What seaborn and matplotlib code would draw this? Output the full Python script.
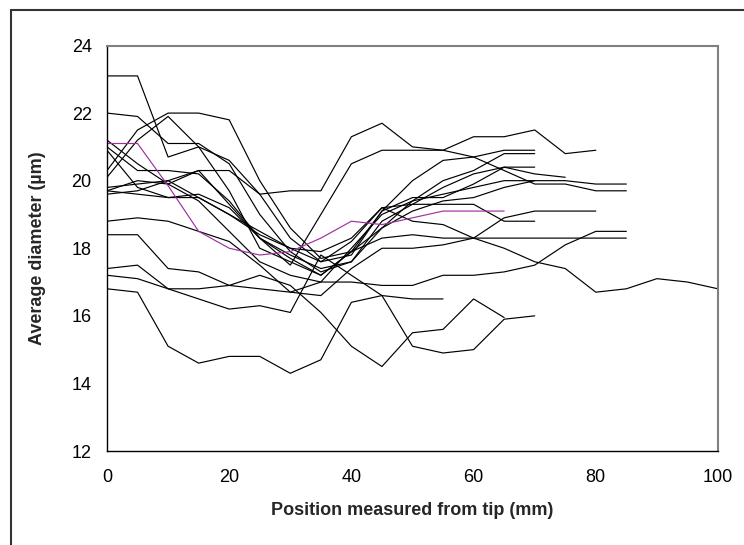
import matplotlib
matplotlib.use('Agg')
import matplotlib.pyplot as plt
import seaborn as sns
import pandas as pd
from matplotlib.patches import Rectangle

# sampling positions along the fibre (mm from tip)
positions = [0, 5, 10, 15, 20, 25, 30, 35, 40, 45, 50,
             55, 60, 65, 70, 75, 80, 85, 90, 95, 100]

# average diameter (um) per fibre
fibre_01 = [23.1, 23.1, 20.7, 21.0, 19.7, 18.0, 17.6, 17.2, 17.9, 19.1, 19.5, 19.5, 19.9, 20.4, 20.4]
fibre_02 = [22.0, 21.9, 21.1, 21.1, 20.5, 19.0, 17.9, 17.3, 17.6, 18.6, 19.4, 20.0, 20.3, 20.8, 20.8]
fibre_03 = [20.3, 21.5, 22.0, 22.0, 21.8, 20.0, 18.6, 17.7, 17.9, 18.3, 18.4, 18.3, 18.3, 18.3, 18.3, 18.3, 18.3, 18.3]
fibre_04 = [20.1, 21.2, 21.9, 21.0, 20.6, 19.6, 18.3, 17.6, 17.8, 19.1, 20.0, 20.6, 20.7, 20.9, 20.9]
fibre_05 = [19.7, 20.0, 19.9, 20.3, 20.3, 19.6, 19.7, 19.7, 21.3, 21.7, 21.0, 20.9, 21.3, 21.3, 21.5, 20.8, 20.9]
fibre_06 = [21.0, 20.3, 20.3, 20.2, 19.4, 18.3, 17.5, 19.0, 20.5, 20.9, 20.9, 20.9, 20.7, 20.3, 19.9, 19.9, 19.7, 19.7]
fibre_07 = [20.9, 19.8, 19.5, 19.6, 19.2, 18.3, 17.7, 17.2, 17.9, 18.6, 19.1, 19.4, 19.5, 19.8, 20.0, 20.0, 19.9, 19.9]
fibre_08 = [19.6, 19.7, 20.0, 20.3, 19.3, 18.3, 17.8, 17.4, 17.6, 18.8, 19.3, 19.8, 20.2, 20.4, 20.2, 20.1]
fibre_09 = [18.8, 18.9, 18.8, 18.5, 18.2, 17.5, 16.7, 16.6, 17.4, 18.0, 18.0, 18.1, 18.3, 18.9, 19.1, 19.1, 19.1]
fibre_10 = [19.8, 19.9, 20.0, 19.5, 19.0, 18.4, 18.0, 17.6, 18.2, 19.2, 19.3, 19.3, 19.3, 18.8, 18.8]
fibre_11 = [19.7, 19.6, 19.5, 19.5, 19.0, 18.5, 18.0, 17.9, 18.3, 19.2, 18.8, 18.7, 18.3, 18.0, 17.6, 17.4, 16.7, 16.8, 17.1, 17.0, 16.8]
fibre_12 = [18.4, 18.4, 17.4, 17.3, 16.9, 16.8, 16.7, 17.0, 17.0, 16.9, 16.9, 17.2, 17.2, 17.3, 17.5, 18.1, 18.5, 18.5]
fibre_13 = [16.8, 16.7, 15.1, 14.6, 14.8, 14.8, 14.3, 14.7, 16.4, 16.6, 16.5, 16.5]
fibre_14 = [17.4, 17.5, 16.8, 16.8, 16.9, 17.2, 16.9, 16.1, 15.1, 14.5, 15.5, 15.6, 16.5, 15.95]
fibre_15 = [17.2, 17.1, 16.8, 16.5, 16.2, 16.3, 16.1, 17.8, 17.2, 16.6, 15.1, 14.9, 15.0, 15.9, 16.0]
fibre_16 = [21.2, 20.5, 19.9, 19.4, 18.5, 17.6, 17.2, 17.0, 18.0, 19.0, 19.4, 19.6, 19.8, 20.0, 20.0]
mean_fibre = [21.1, 21.1, 19.85, 18.5, 18.0, 17.8, 17.9, 18.3, 18.8, 18.7, 18.9, 19.1, 19.1, 19.1]

series = {
    'f01': fibre_01, 'f02': fibre_02, 'f03': fibre_03, 'f04': fibre_04,
    'f05': fibre_05, 'f06': fibre_06, 'f07': fibre_07, 'f08': fibre_08,
    'f09': fibre_09, 'f10': fibre_10, 'f11': fibre_11, 'f12': fibre_12,
    'f13': fibre_13, 'f14': fibre_14, 'f15': fibre_15, 'f16': fibre_16,
    'mean': mean_fibre,
}

rows = []
for name, vals in series.items():
    for pos, val in zip(positions, vals):
        rows.append({'sample': name, 'position': pos, 'diameter': val})
df = pd.DataFrame(rows)

palette = {name: 'black' for name in series}
palette['mean'] = '#A030A0'

sns.set_style('white')
plt.rcParams['font.family'] = ['Liberation Sans', 'DejaVu Sans']

fig = plt.figure(figsize=(7.44, 5.45), dpi=100)
ax = fig.add_axes([107 / 744, 1 - 451 / 545, 611 / 744, 405.5 / 545])

sns.lineplot(
    data=df,
    x='position',
    y='diameter',
    hue='sample',
    palette=palette,
    estimator=None,
    sort=False,
    legend=False,
    linewidth=0.85,
    ax=ax,
)

ax.set_xlim(0, 100)
ax.set_ylim(12, 24)
ax.set_xticks([0, 20, 40, 60, 80, 100])
ax.set_yticks([12, 14, 16, 18, 20, 22, 24])

ax.tick_params(axis='both', direction='out', length=5, width=1, colors='black', labelsize=13)
ax.tick_params(axis='x', pad=8)
ax.tick_params(axis='y', pad=6)

for side in ['left', 'bottom']:
    ax.spines[side].set_color('black')
    ax.spines[side].set_linewidth(1.0)
for side in ['top', 'right']:
    ax.spines[side].set_color('#808080')
    ax.spines[side].set_linewidth(1.5)

ax.set_xlabel('Position measured from tip (mm)', fontsize=13, fontweight='bold')
ax.set_ylabel('Average diameter (µm)', fontsize=13, fontweight='bold')
ax.xaxis.set_label_coords(0.5, -0.125)
ax.yaxis.set_label_coords(-0.10, 0.5)

# outer chart frame (only top and left edges fall inside the picture)
frame = Rectangle((11 / 744, -0.05), 1.2, 1.05 - 10 / 545, transform=fig.transFigure,
                  fill=False, edgecolor='#333333', linewidth=1.5, clip_on=False)
fig.patches.append(frame)

fig.savefig('out.png', dpi=100)
